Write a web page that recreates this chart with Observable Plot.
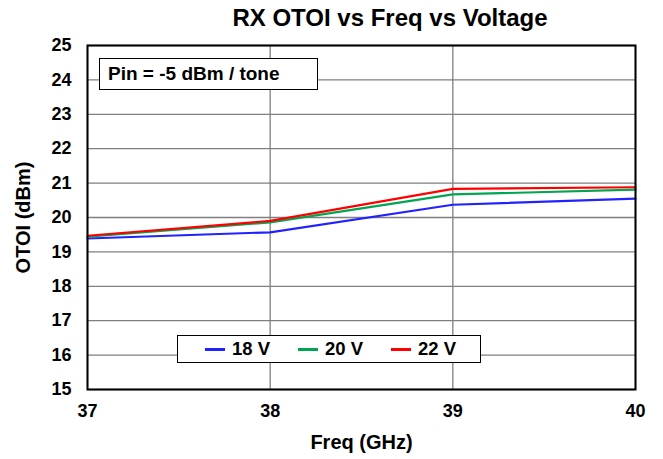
<!DOCTYPE html>
<html><head><meta charset="utf-8">
<script src="https://cdn.jsdelivr.net/npm/d3@7"></script>
<script src="https://cdn.jsdelivr.net/npm/@observablehq/plot@0.6"></script>
<style>
body{margin:0;background:#fff;font-family:"Liberation Sans",Arial,sans-serif;}
#wrap{position:relative;width:663px;height:459px;}
#title{height:35px;line-height:36px;font-size:24px;font-weight:bold;text-align:center;padding-left:117px;box-sizing:border-box;width:663px;white-space:nowrap;}
.box{position:absolute;background:#fff;border:1px solid #000;font-weight:bold;box-sizing:border-box;white-space:nowrap;}
.item{position:absolute;top:0;line-height:26px;font-size:18.5px;}
.sw{position:absolute;top:12px;height:2.5px;width:20px;}
#chart svg g[aria-label="x-axis label"], #chart svg g[aria-label="y-axis label"]{font-size:20px;}
#chart svg g[aria-label="x-axis tick label"], #chart svg g[aria-label="y-axis tick label"]{font-size:18px;}
</style></head>
<body>
<div id="wrap">
<div id="title">RX OTOI vs Freq vs Voltage</div>
<div id="chart"></div>
</div>
<script>
const freqs = [37, 38, 39, 40];
const series = ["18 V", "20 V", "22 V"];
const v18 = [19.39, 19.57, 20.37, 20.55];
const v20 = [19.44, 19.86, 20.67, 20.81];
const v22 = [19.47, 19.90, 20.83, 20.88];
const colors = ["#2222ff", "#00a651", "#ff0000"];
const yTicks = [15,16,17,18,19,20,21,22,23,24,25];
const xTicks = [37,38,39,40];
const annotation = "Pin = -5 dBm / tone";

const vals = [v18, v20, v22];
const data = [];
series.forEach((s, i) => freqs.forEach((f, j) => data.push({series: s, freq: f, value: vals[i][j]})));

const plot = Plot.plot({
  width: 663, height: 424,
  marginLeft: 87, marginRight: 28, marginTop: 10, marginBottom: 70,
  style: {fontFamily: "'Liberation Sans', Arial, sans-serif", fontWeight: "bold", color: "#000", background: "transparent"},
  x: {domain: [37, 40]},
  y: {domain: [15, 25]},
  color: {domain: series, range: colors},
  marks: [
    Plot.gridX(xTicks, {stroke: "#7f7f7f", strokeOpacity: 1, strokeWidth: 1.3}),
    Plot.gridY(yTicks, {stroke: "#7f7f7f", strokeOpacity: 1, strokeWidth: 1.3}),
    Plot.axisX(xTicks, {tickSize: 0, tickPadding: 15, tickFormat: d => String(d),
      label: "Freq (GHz)", labelAnchor: "center", labelArrow: "none", labelOffset: 59}),
    Plot.axisY(yTicks, {tickSize: 0, tickPadding: 16, tickFormat: d => String(d),
      label: "OTOI (dBm)", labelAnchor: "center", labelArrow: "none", labelOffset: 72}),
    Plot.line(data, {x: "freq", y: "value", z: "series", stroke: "series", strokeWidth: 2.2}),
    Plot.frame({stroke: "#000", strokeWidth: 2})
  ]
});
document.getElementById("chart").appendChild(plot);

const wrap = document.getElementById("wrap");
const ann = document.createElement("div");
ann.className = "box";
Object.assign(ann.style, {left: "99px", top: "58px", width: "219px", height: "32px", lineHeight: "30px", paddingLeft: "8px", fontSize: "19px"});
ann.textContent = annotation;
wrap.appendChild(ann);

const leg = document.createElement("div");
leg.className = "box";
Object.assign(leg.style, {left: "177px", top: "335px", width: "304px", height: "28px"});
const offs = [27, 120, 213];
series.forEach((s, i) => {
  const sw = document.createElement("div");
  sw.className = "sw";
  Object.assign(sw.style, {left: offs[i] + "px", background: colors[i]});
  leg.appendChild(sw);
  const t = document.createElement("div");
  t.className = "item";
  t.style.left = (offs[i] + 27) + "px";
  t.textContent = s;
  leg.appendChild(t);
});
wrap.appendChild(leg);
</script>
</body></html>
